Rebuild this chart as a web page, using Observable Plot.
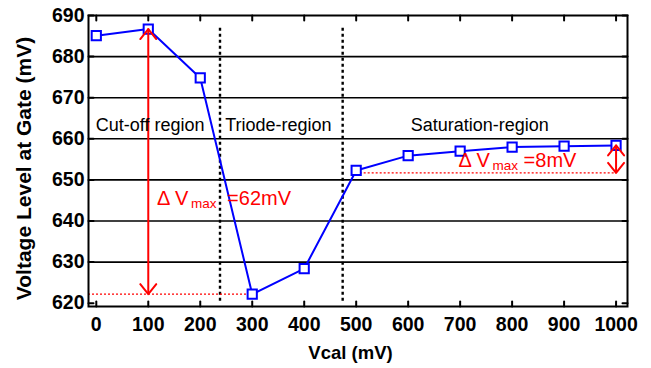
<!DOCTYPE html>
<html>
<head>
<meta charset="utf-8">
<script src="https://cdn.jsdelivr.net/npm/d3@7"></script>
<script src="https://cdn.jsdelivr.net/npm/@observablehq/plot@0.6"></script>
<style>
  html, body { margin: 0; padding: 0; background: #fff; }
  #chart { width: 651px; height: 368px; }
</style>
</head>
<body>
<div id="chart"></div>
<script>
// ---- data ----
const vcal = [0, 100, 200, 300, 400, 500, 600, 700, 800, 900, 1000];
const vgate = [685.1, 686.7, 674.8, 622.2, 628.4, 652.3, 655.9, 657.0, 658.0, 658.2, 658.4];

const xTicks = [0, 100, 200, 300, 400, 500, 600, 700, 800, 900, 1000];
const yTicks = [620, 630, 640, 650, 660, 670, 680, 690];
const gridLevels = [630, 640, 650, 660, 670, 680];
const xDomain = [-15, 1022];
const yDomain = [619.2, 690];

const regionBounds = [238, 474];
const regionSpan = [620.5, 687.6];
const regionLabels = ["Cut-off region", "Triode-region", "Saturation-region"];
const regionLabelX = [-1, 248, 605];
const regionLabelY = 661.8;

const satLevel = 651.7;

const deltaX = [117, 697];
const deltaY = [643.8, 653.1];
const deltaValue = ["=62mV", "=8mV"];
const deltaValueDx = [70, 65];

const xLabel = "Vcal (mV)";
const yLabel = "Voltage Level at Gate (mV)";

// ---- derived ----
const data = vcal.map((v, i) => ({vcal: v, vgate: vgate[i]}));
const maxV = d3.max(vgate);
const minV = d3.min(vgate);
const maxX = vcal[d3.maxIndex(vgate)];
const minX = vcal[d3.minIndex(vgate)];
const endX = vcal[vcal.length - 1];
const endV = vgate[vgate.length - 1];
const satX = vcal[5];

const shafts = [
  {x: maxX, y1: minV, y2: maxV},
  {x: endX, y1: satLevel, y2: endV}
];
const heads = [
  {x: maxX, y: maxV, r: 0},
  {x: maxX, y: minV, r: 180},
  {x: endX, y: endV, r: 0},
  {x: endX, y: satLevel, r: 180}
];

const lineShape = {draw(ctx, l) { ctx.moveTo(0, 0); ctx.lineTo(0, -l); }};
const headShape = {draw(ctx, l) { ctx.moveTo(-0.8 * l, l); ctx.lineTo(0, 0); ctx.lineTo(0.8 * l, l); }};

const font = "'Liberation Sans', Arial, Helvetica, sans-serif";
const red = "#ff0000";
const blue = "#0000ff";

const deltaMarks = [];
deltaX.forEach((x, i) => {
  const d = [{x, y: deltaY[i]}];
  deltaMarks.push(
    Plot.text(d, {x: "x", y: "y", text: () => "Δ V", textAnchor: "start", lineAnchor: "bottom", fill: red, fontSize: 20}),
    Plot.text(d, {x: "x", y: "y", text: () => "max", textAnchor: "start", lineAnchor: "bottom", fill: red, fontSize: 13.5, dx: 34, dy: 3}),
    Plot.text(d, {x: "x", y: "y", text: () => deltaValue[i], textAnchor: "start", lineAnchor: "bottom", fill: red, fontSize: 20, dx: deltaValueDx[i]})
  );
});

const chart = Plot.plot({
  width: 651,
  height: 368,
  marginLeft: 88,
  marginRight: 24,
  marginTop: 15,
  marginBottom: 62,
  style: {fontFamily: font, background: "#fff", color: "#000"},
  x: {domain: xDomain},
  y: {domain: yDomain},
  marks: [
    // grid
    Plot.ruleY(gridLevels, {stroke: "#000", strokeWidth: 1.6}),
    // region separators
    Plot.ruleX(regionBounds, {y1: regionSpan[0], y2: regionSpan[1], stroke: "#000", strokeWidth: 2.4, strokeDasharray: "3,3"}),
    // red reference levels
    Plot.ruleY([minV], {x1: xDomain[0], x2: minX, stroke: red, strokeWidth: 1.3, strokeDasharray: "2,2"}),
    Plot.ruleY([satLevel], {x1: satX, x2: endX, stroke: red, strokeWidth: 1.3, strokeDasharray: "2,2"}),
    // series
    Plot.line(data, {x: "vcal", y: "vgate", stroke: blue, strokeWidth: 2}),
    Plot.dot(data, {x: "vcal", y: "vgate", symbol: "square", r: 5.2, stroke: blue, strokeWidth: 2, fill: "white"}),
    // arrows
    Plot.ruleX(shafts, {x: "x", y1: "y1", y2: "y2", stroke: red, strokeWidth: 2}),
    Plot.vector(heads, {x: "x", y: "y", rotate: "r", length: 10, anchor: "start", shape: headShape, stroke: red, strokeWidth: 2}),
    // region labels
    Plot.text(regionLabels, {x: (d, i) => regionLabelX[i], y: () => regionLabelY, text: d => d, textAnchor: "start", lineAnchor: "bottom", fontSize: 18, fill: "#000"}),
    ...deltaMarks,
    // inner ticks
    Plot.vector(xTicks, {x: d => d, frameAnchor: "bottom", rotate: 0, length: 5, anchor: "start", shape: lineShape, stroke: "#000", strokeWidth: 2}),
    Plot.vector(xTicks, {x: d => d, frameAnchor: "top", rotate: 180, length: 5, anchor: "start", shape: lineShape, stroke: "#000", strokeWidth: 2}),
    Plot.vector(yTicks, {y: d => d, frameAnchor: "left", rotate: 90, length: 5, anchor: "start", shape: lineShape, stroke: "#000", strokeWidth: 2}),
    Plot.vector(yTicks, {y: d => d, frameAnchor: "right", rotate: -90, length: 5, anchor: "start", shape: lineShape, stroke: "#000", strokeWidth: 2}),
    // axes
    Plot.axisX({ticks: xTicks, tickSize: 0, tickPadding: 11, fontSize: 19.5, fontWeight: "bold", label: null, tickFormat: d => String(d)}),
    Plot.axisY({ticks: yTicks, tickSize: 0, tickPadding: 4, fontSize: 19.5, fontWeight: "bold", label: null, tickFormat: d => String(d)}),
    // axis titles
    Plot.text([xLabel], {frameAnchor: "bottom", text: d => d, textAnchor: "middle", dx: -7.5, dy: 52, lineAnchor: "bottom", fontSize: 18.5, fontWeight: "bold", fill: "#000"}),
    Plot.text([yLabel], {frameAnchor: "left", text: d => d, rotate: -90, textAnchor: "middle", dx: -64, dy: 7.5, lineAnchor: "middle", fontSize: 21, fontWeight: "bold", fill: "#000"}),
    // frame
    Plot.frame({stroke: "#000", strokeWidth: 2})
  ]
});
document.getElementById("chart").appendChild(chart);
</script>
</body>
</html>
